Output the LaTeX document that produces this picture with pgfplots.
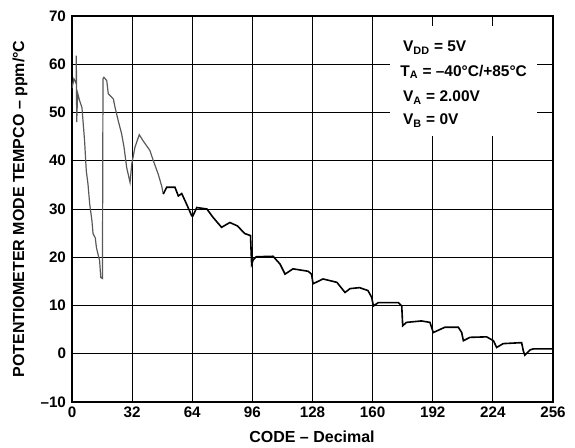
\documentclass[border=0pt]{standalone}
\usepackage{fontspec}
\setmainfont{Liberation Sans}
\usepackage{pgfplots}
\pgfplotsset{compat=1.18}
\begin{document}
\begin{tikzpicture}[x=1pt,y=1pt]
\path[use as bounding box] (0,0) rectangle (431.25,336);
\begin{axis}[
  at={(54pt,34.5pt)}, anchor=south west,
  scale only axis, width=360.75pt, height=289.5pt,
  xmin=0, xmax=256, ymin=-10, ymax=70,
  xtick={0,32,...,256},
  ytick={-10,0,...,70},
  yticklabels={–10,0,10,20,30,40,50,60,70},
  xticklabels={0,32,64,96,128,160,192,224,256},
  major tick length=0pt,
  grid=major,
  major grid style={black, line width=0.7pt},
  axis line style={line width=1.5pt},
  /pgf/number format/assume math mode=true,
  tick label style={font=\fontsize{11.4}{13}\selectfont\bfseries},
  xticklabel style={yshift=0pt},
  yticklabel style={xshift=-1pt},
  xlabel={CODE – Decimal},
  ylabel={POTENTIOMETER MODE TEMPCO – ppm/°C},
  label style={font=\fontsize{12}{14}\selectfont\bfseries},
  xlabel style={at={(axis description cs:0.499,-0.09)}, anchor=center},
  ylabel style={at={(axis description cs:-0.108,0.5)}, anchor=center},
  clip=true,
]
\fill[white] (axis cs:169,45.2) rectangle (axis cs:247.5,68);
\node[anchor=west, font=\fontsize{11.6}{13}\selectfont\bfseries, inner sep=0pt] at (axis cs:176.1,63.4) {V\textsubscript{DD} = 5V};
\node[anchor=west, font=\fontsize{11.6}{13}\selectfont\bfseries, inner sep=0pt] at (axis cs:174.6,58.4) {T\textsubscript{A} = –40°C/+85°C};
\node[anchor=west, font=\fontsize{11.6}{13}\selectfont\bfseries, inner sep=0pt] at (axis cs:176.1,53.1) {V\textsubscript{A} = 2.00V};
\node[anchor=west, font=\fontsize{11.6}{13}\selectfont\bfseries, inner sep=0pt] at (axis cs:176.1,48.3) {V\textsubscript{B} = 0V};
\addplot[black!65, line width=0.9pt] coordinates {
(0,55) (1,57) (2.2,56) (2.3,61.8) (2.5,48) (3,54) (4.1,52.4) (5.3,51)
(6.7,44.1) (7.6,37.9) (8.5,35.2) (9.4,31.1) (10.6,27.6) (11.2,24.9)
(12.4,24) (13,22) (13.8,20.7) (14.7,19.3) (15.3,15.8) (16.2,15.6)
(16.5,57) (17,57.3) (18.5,56.6) (19.3,53.9) (22,52.8) (22.9,51.1)
(24.6,48.3) (26.4,45.6) (27.7,42.8) (29.1,38.6) (30.9,35.5) (31.8,39.3)
(33.5,42.8) (35.8,45.4) (37.9,44.1) (41.5,42.1) (43.3,40) (45.9,37.2)
(47.7,34.8) (48.6,33.1)
};
\addplot[black, line width=1.2pt] coordinates {
(48.6,33.1) (50.4,34.5) (54.8,34.5) (56.6,32.7) (58.4,33.2) (61,31) (63.7,28.6)
(64.4,28.6) (66.4,30.3) (71.8,30.0) (75,28.3) (79.6,26.2) (84,27.2)
(88,26.5) (92,24.9) (95,24.5) (95.6,18.6) (96.5,19.5) (98,20.1)
(107,20.2) (110.7,18.6) (113.4,16.5) (117.6,17.6) (125.6,17.1)
(127.5,16.5) (128.3,14.5) (133.6,15.5) (141,14.8) (145.3,12.7)
(148,13.5) (153,13.7) (157.5,13.1) (159.5,11.7) (160.4,9.9) (163,10.6)
(173.7,10.6) (175.5,9.9) (176,5.8) (178,6.5) (186,6.8) (190.5,6.5)
(192.3,4.4) (198.5,5.5) (205.6,5.5) (207.4,4.4) (208.3,2.7) (211.8,3.4)
(220.7,3.5) (224.3,2.7) (226,1.3) (229.5,2.1) (239.3,2.3) (240.2,0.6)
(241,-0.3) (243.8,0.8) (245.5,1.0) (256,1.0)
};
\end{axis}
\end{tikzpicture}
\end{document}
